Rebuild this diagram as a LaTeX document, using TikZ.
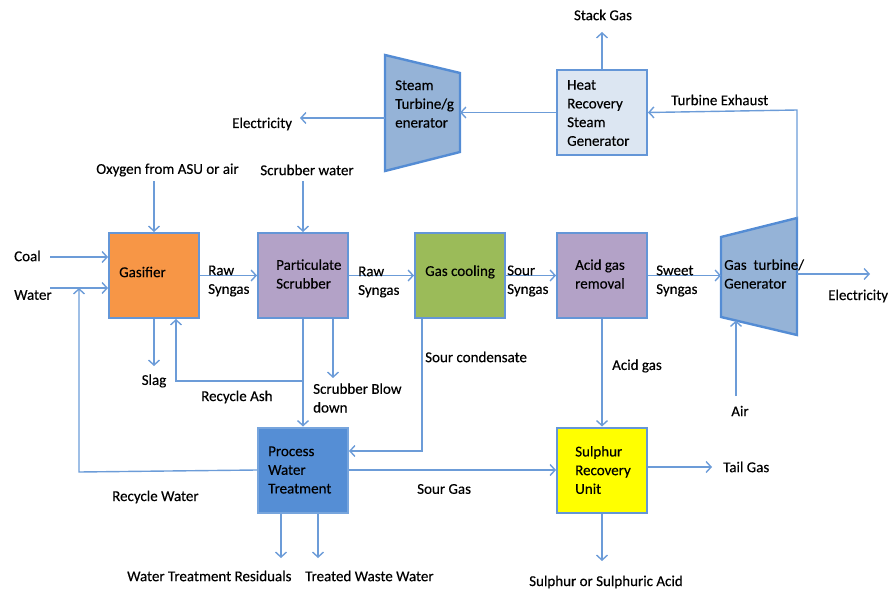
\documentclass[tikz,border=0pt]{standalone}
\usepackage{fontspec}
\setmainfont{Carlito}[FakeBold=0.3]
\usetikzlibrary{arrows.meta}
\definecolor{linec}{RGB}{108,156,216}
\definecolor{edgec}{RGB}{100,150,215}
\definecolor{turbedge}{RGB}{84,140,212}
\definecolor{orangef}{HTML}{F79646}
\definecolor{lavf}{HTML}{B3A2C7}
\definecolor{greenf}{HTML}{9BBB59}
\definecolor{turbf}{HTML}{95B3D7}
\definecolor{hrsgf}{HTML}{DCE6F2}
\definecolor{pwtf}{HTML}{558ED5}
\definecolor{sruf}{HTML}{FFFF00}
\begin{document}
\begin{tikzpicture}[x=1pt,y=-1pt,
  unit/.style={draw=edgec, line width=2pt, minimum width=90pt, minimum height=85pt, inner sep=0pt},
  txt/.style={font=\fontsize{15}{18.7}\selectfont, inner sep=0pt, align=left, anchor=west, text=black},
  ctxt/.style={txt, anchor=center, align=center},
  flow/.style={draw=linec, line width=1.4pt, -{Straight Barb[length=5pt,width=11pt]}},
  turbine/.style={draw=turbedge, line width=2.4pt, fill=turbf, line join=miter}]
\useasboundingbox (0,0) rectangle (891,591);

% process units
\node[unit, fill=orangef] (gas)  at (154,275.5) {};
\node[unit, fill=lavf]    (scr)  at (303,275.5) {};
\node[unit, fill=greenf]  (cool) at (460,275.5) {};
\node[unit, fill=lavf]    (agr)  at (602,275.5) {};
\node[unit, fill=hrsgf]   (hrsg) at (602,112.5) {};
\node[unit, fill=pwtf, draw=pwtf!80!white] (pwt) at (303,470) {};
\node[unit, fill=sruf]    (sru)  at (602,470) {};

% turbines
\coordinate (gtA) at (721,237);
\coordinate (gtB) at (797,218);
\coordinate (gtC) at (797,335);
\coordinate (gtD) at (721,317);
\draw[turbine] (gtA) -- (gtB) -- (gtC) -- (gtD) -- cycle;
\coordinate (stA) at (385,55);
\coordinate (stB) at (460,73);
\coordinate (stC) at (460,152);
\coordinate (stD) at (385,171);
\draw[turbine] (stA) -- (stB) -- (stC) -- (stD) -- cycle;

% unit captions
\node[txt] (gasT)  at (119,272) {Gasifier};
\node[txt] (scrT)  at (276,274) {Particulate\\Scrubber};
\node[txt] (coolT) at (425,272) {Gas cooling};
\node[txt] (agrT)  at (575,274) {Acid gas\\removal};
\node[txt] (gtT)   at (724,274) {Gas\ \ turbine/\\Generator};
\node[txt] (stT)   at (395,104) {Steam\\Turbine/g\\enerator};
\node[txt] (hrsgT) at (567,113) {Heat\\Recovery\\Steam\\Generator};
\node[txt] (pwtT)  at (268,470) {Process\\Water\\Treatment};
\node[txt] (sruT)  at (575,470) {Sulphur\\Recovery\\Unit};

% free ends of the streams
\coordinate (coalS)  at (50,257);
\coordinate (waterS) at (50,288);
\coordinate (rw)     at (79,472);
\coordinate (oxS)    at (154,181);
\coordinate (slagE)  at (154,366);
\coordinate (ashC)   at (176,381);
\coordinate (swS)    at (303,181);
\coordinate (bdE)    at (333,378);
\coordinate (scC)    at (422,451);
\coordinate (tgE)    at (712,467);
\coordinate (sulE)   at (602,561);
\coordinate (wtrE)   at (281,558);
\coordinate (twwE)   at (318,558);
\coordinate (airS)   at (736,396);
\coordinate (airE)   at (736,320.5);
\coordinate (elE)    at (870,274);
\coordinate (teC)    at (797,110);
\coordinate (stackE) at (602,32);
\coordinate (stL)    at (385,118);
\coordinate (el2E)   at (300,118);

% streams
\draw[flow] (coalS) -- (gas.west|-coalS);
\draw[flow] (waterS) -- (gas.west|-waterS);
\draw[flow] (pwt.west) -- (rw) -- (rw|-waterS);
\draw[flow] (oxS) -- (gas.north);
\draw[flow] (gas.south) -- (slagE);
\draw[flow] (scr.south|-ashC) -- (ashC) -- (ashC|-gas.south);
\draw[flow] (gas.east) -- (scr.west);
\draw[flow] (scr.east) -- (cool.west);
\draw[flow] (cool.east) -- (agr.west);
\draw[flow] (agr.east) -- (agr.east-|gtA);
\draw[flow] (swS) -- (scr.north);
\draw[flow] (scr.south) -- (pwt.north);
\draw[flow] (scr.south-|bdE) -- (bdE);
\draw[flow] (cool.south-|scC) -- (scC) -- (scC-|pwt.east);
\draw[flow] (agr.south) -- (sru.north);
\draw[flow] (pwt.east) -- (sru.west);
\draw[flow] (sru.east|-tgE) -- (tgE);
\draw[flow] (sru.south) -- (sulE);
\draw[flow] (pwt.south-|wtrE) -- (wtrE);
\draw[flow] (pwt.south-|twwE) -- (twwE);
\draw[flow] (airS) -- (airE);
\draw[flow] (gtB|-elE) -- (elE);
\draw[flow] (gtB) -- (teC) -- (hrsg.east);
\draw[flow] (hrsg.north) -- (stackE);
\draw[flow] (hrsg.west) -- (hrsg.west-|stB);
\draw[flow] (stL) -- (el2E);

% stream labels
\node[ctxt] (oxL)    at (167.5,170) {Oxygen from ASU or air};
\node[ctxt] (swL)    at (307,170) {Scrubber water};
\node[txt]  (coalL)  at (14,256) {Coal};
\node[txt]  (waterL) at (14,295) {Water};
\node[txt]  (raw1L)  at (208,281) {Raw\\Syngas};
\node[txt]  (raw2L)  at (358,282) {Raw\\Syngas};
\node[txt]  (sourL)  at (507,281) {Sour\\Syngas};
\node[txt]  (sweetL) at (656,281) {Sweet\\Syngas};
\node[txt]  (el1L)   at (828,296) {Electricity};
\node[txt]  (el2L)   at (232,124) {Electricity};
\node[ctxt] (stackL) at (603,15) {Stack Gas};
\node[txt]  (teL)    at (671,100) {Turbine Exhaust};
\node[ctxt] (slagL)  at (154,381) {Slag};
\node[txt]  (ashL)   at (201,397) {Recycle Ash};
\node[txt]  (bdL)    at (313,398) {Scrubber Blow\\down};
\node[txt]  (scL)    at (425,357) {Sour condensate};
\node[txt]  (acidL)  at (612,366) {Acid gas};
\node[ctxt] (airL)   at (740,411) {Air};
\node[txt]  (rwL)    at (112,497) {Recycle Water};
\node[txt]  (sgL)    at (417,489) {Sour Gas};
\node[txt]  (tgL)    at (723,467) {Tail Gas};
\node[txt]  (wtrL)   at (127,576) {Water Treatment Residuals};
\node[txt]  (twwL)   at (305,576) {Treated Waste Water};
\node[ctxt] (sulL)   at (606,582) {Sulphur or Sulphuric Acid};
\end{tikzpicture}
\end{document}
